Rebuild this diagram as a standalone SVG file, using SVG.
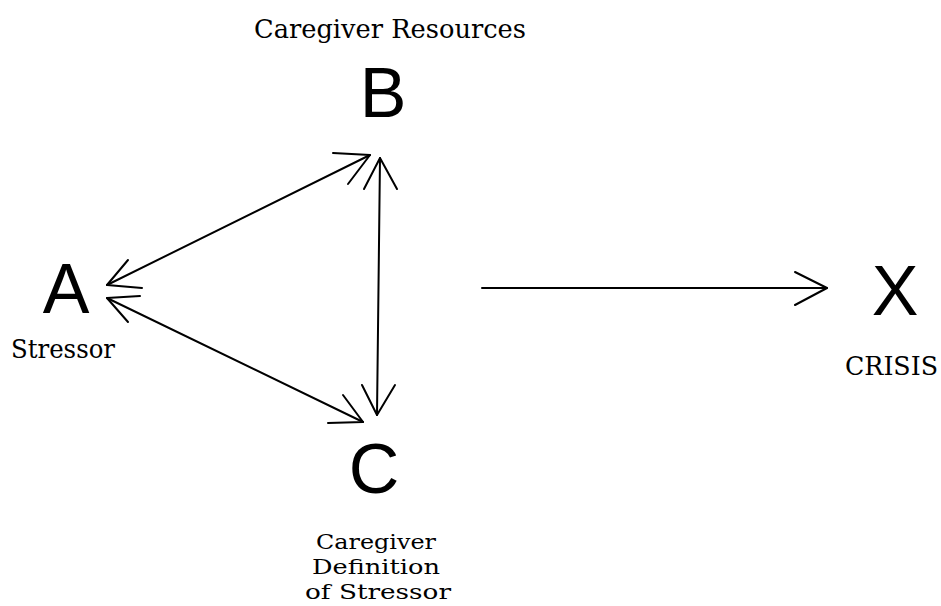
<svg xmlns="http://www.w3.org/2000/svg" width="941" height="606" viewBox="0 0 941 606">
<style>
.big{font-family:"Liberation Sans",Arial,sans-serif;font-size:70px;fill:#000;text-anchor:middle}
.lbl{font-family:"DejaVu Serif","Liberation Serif",serif;font-size:26px;fill:#000}
.cl{font-size:21px}
.ln{stroke:#000;stroke-width:2;fill:none;stroke-linecap:round;stroke-linejoin:round}
</style>
<rect width="941" height="606" fill="#fff"/>
<g id="nodeB">
<text class="lbl" x="254" y="38" textLength="272" lengthAdjust="spacingAndGlyphs">Caregiver Resources</text>
<text class="big" x="383" y="117">B</text>
</g>
<g id="nodeA">
<text class="big" x="66" y="313">A</text>
<text class="lbl" x="11" y="358" textLength="104" lengthAdjust="spacingAndGlyphs">Stressor</text>
</g>
<g id="nodeC">
<text class="big" x="374" y="493">C</text>
<text class="lbl cl" x="316" y="549" textLength="120" lengthAdjust="spacingAndGlyphs">Caregiver</text>
<text class="lbl cl" x="312" y="574" textLength="128" lengthAdjust="spacingAndGlyphs">Definition</text>
<text class="lbl cl" x="305" y="599" textLength="146" lengthAdjust="spacingAndGlyphs">of Stressor</text>
</g>
<g id="nodeX">
<text class="big" x="895" y="315">X</text>
<text class="lbl" x="845" y="375" textLength="93" lengthAdjust="spacingAndGlyphs">CRISIS</text>
</g>
<g id="connectors" class="ln">
<path d="M107 285 L370 155"/>
<path d="M333 153 L370 155 L348 184"/>
<path d="M128 260 L107 285 L142 288"/>
<path d="M380 158 L377 415"/>
<path d="M364 189 L380 158 L397 189"/>
<path d="M362 385 L377 415 L395 385"/>
<path d="M107 298 L363 422"/>
<path d="M140 296 L107 298 L128 322"/>
<path d="M343 395 L363 422 L328 423"/>
<path d="M482 288 L827 288"/>
<path d="M795 272 L827 288 L795 305"/>
</g>
</svg>
